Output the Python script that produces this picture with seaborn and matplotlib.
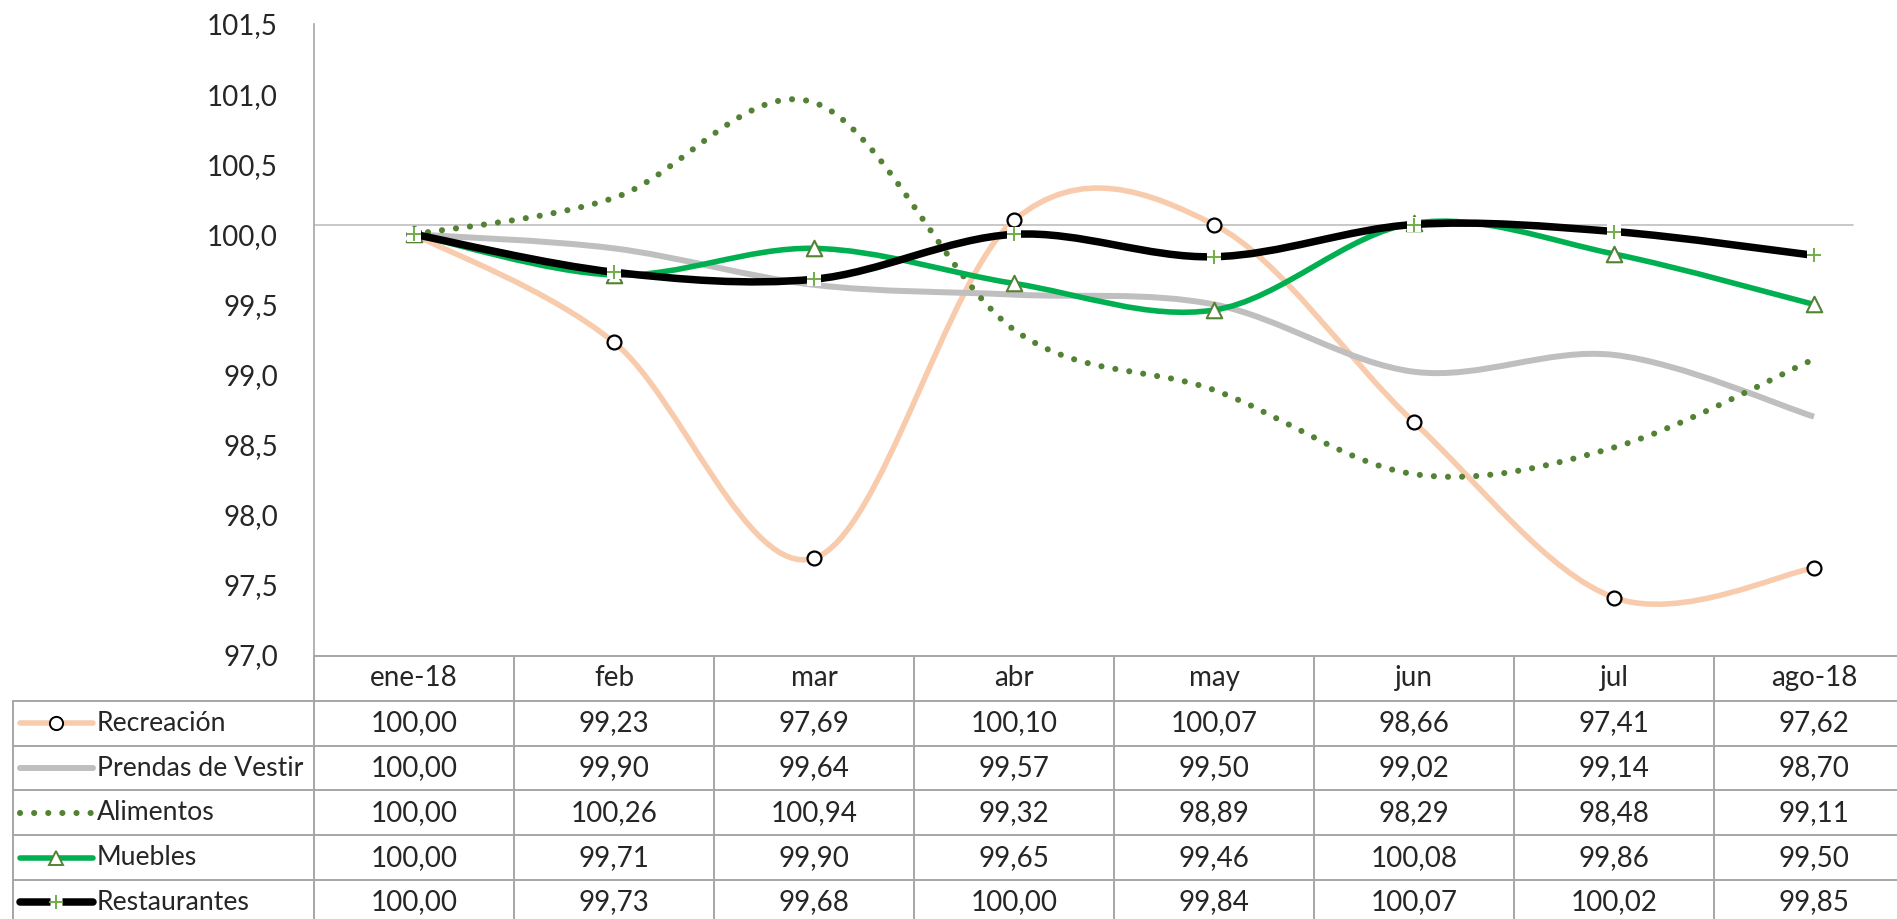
import matplotlib
matplotlib.use("Agg")
import matplotlib.pyplot as plt
import seaborn as sns
import pandas as pd
from matplotlib.path import Path
from matplotlib.patches import PathPatch

# datos del gráfico (índices, base ene-18 = 100)
meses = ["ene-18", "feb", "mar", "abr", "may", "jun", "jul", "ago-18"]
recreacion = [100.00, 99.23, 97.69, 100.10, 100.07, 98.66, 97.41, 97.62]
prendas = [100.00, 99.90, 99.64, 99.57, 99.50, 99.02, 99.14, 98.70]
alimentos = [100.00, 100.26, 100.94, 99.32, 98.89, 98.29, 98.48, 99.11]
muebles = [100.00, 99.71, 99.90, 99.65, 99.46, 100.08, 99.86, 99.50]
restaurantes = [100.00, 99.73, 99.68, 100.00, 99.84, 100.07, 100.02, 99.85]
nombres = ["Recreación", "Prendas de Vestir", "Alimentos", "Muebles", "Restaurantes"]
y_ticks = [97.0, 97.5, 98.0, 98.5, 99.0, 99.5, 100.0, 100.5, 101.0, 101.5]

sns.set_style("white")
plt.rcParams["font.family"] = ["Lato", "DejaVu Sans"]
FS = 20

W, H = 1897, 919
fig = plt.figure(figsize=(W / 100, H / 100), dpi=100)

# área del gráfico en píxeles
x0, x1 = 314, W
ytop, ybot = 24, 655
colw = 200
ax = fig.add_axes([x0 / W, (H - ybot) / H, (x1 - x0) / W, (ybot - ytop) / H])
ax.set_xlim(-0.5, -0.5 + (x1 - x0) / colw)
ax.set_ylim(97.0, 101.5)

series = [recreacion, prendas, alimentos, muebles, restaurantes]
df = pd.DataFrame({n: s for n, s in zip(nombres, series)})
df["idx"] = range(len(meses))

estilos = {
    "Recreación": dict(color="#F8CBAD", lw=4.0, ls="-"),
    "Prendas de Vestir": dict(color="#BFBFBF", lw=4.3, ls="-"),
    "Alimentos": dict(color="#548235", lw=4.4, ls=(0, (0.01, 2.3))),
    "Muebles": dict(color="#00B050", lw=4.0, ls="-"),
    "Restaurantes": dict(color="#000000", lw=5.4, ls="-"),
}


def curva_suave(xs, ys):
    # curva bezier tipo Excel (Catmull-Rom, tensión 1/6)
    n = len(xs)
    verts = [(xs[0], ys[0])]
    codes = [Path.MOVETO]
    for i in range(n - 1):
        a = max(i - 1, 0)
        b = min(i + 2, n - 1)
        c1 = (xs[i] + (xs[i + 1] - xs[a]) / 6, ys[i] + (ys[i + 1] - ys[a]) / 6)
        c2 = (xs[i + 1] - (xs[b] - xs[i]) / 6, ys[i + 1] - (ys[b] - ys[i]) / 6)
        verts += [c1, c2, (xs[i + 1], ys[i + 1])]
        codes += [Path.CURVE4] * 3
    return Path(verts, codes)


# línea del eje horizontal
ax.plot([-0.5, (1853 - x0) / colw - 0.5], [100.065, 100.065], color="#BFBFBF", lw=1.2, zorder=1)

z = 2
for n in nombres:
    st = estilos[n]
    p = PathPatch(curva_suave(list(df["idx"]), list(df[n])), facecolor="none",
                  edgecolor=st["color"], lw=st["lw"], linestyle=st["ls"],
                  capstyle="round" if n == "Alimentos" else "butt", joinstyle="round", zorder=z)
    ax.add_patch(p)
    if n == "Recreación":
        sns.scatterplot(data=df, x="idx", y=n, ax=ax, marker="o", s=100, color="white",
                        edgecolor="black", linewidth=1.6, zorder=z + 0.5)
    elif n == "Muebles":
        sns.scatterplot(data=df, x="idx", y=n, ax=ax, marker="^", s=125, color="white",
                        edgecolor="#548235", linewidth=1.5, zorder=z + 0.5)
    elif n == "Restaurantes":
        sns.scatterplot(data=df, x="idx", y=n, ax=ax, marker="s", s=110, color="white",
                        edgecolor="none", linewidth=0, zorder=z + 0.4)
        sns.scatterplot(data=df, x="idx", y=n, ax=ax, marker="+", s=115, color="#70AD47",
                        linewidth=1.4, zorder=z + 0.5)
    z += 1

ax.set_xlabel("")
ax.set_ylabel("")
ax.set_xticks([])
ax.set_yticks(y_ticks)
ax.set_yticklabels([f"{v:.1f}".replace(".", ",") for v in y_ticks], fontsize=FS)
ax.tick_params(axis="y", length=0, pad=26)
for s in ["top", "right", "bottom"]:
    ax.spines[s].set_visible(False)
ax.spines["left"].set_color("#A6A6A6")
ax.spines["left"].set_linewidth(1.2)

# tabla de datos en coordenadas de píxel
tb = fig.add_axes([0, 0, 1, 1])
tb.set_xlim(0, W)
tb.set_ylim(H, 0)
tb.axis("off")
tb.patch.set_alpha(0)

gris = "#A6A6A6"
y_head = 656
rh = 44.8
y_rows = [y_head + rh * (k + 1) for k in range(len(nombres) + 1)]
cols = [ax.transData.transform((i - 0.5, 100))[0] for i in range(len(meses) + 1)]
centers = [ax.transData.transform((i, 100))[0] for i in range(len(meses))]

tb.plot([x0, W], [y_head, y_head], color=gris, lw=1.4)
for yy in y_rows[:-1]:
    tb.plot([13, W], [yy, yy], color=gris, lw=1.4)
tb.plot([13, 13], [y_rows[0], H], color=gris, lw=1.4)
for cx in cols:
    tb.plot([cx, cx], [y_head, H], color=gris, lw=1.4)

for i, m in enumerate(meses):
    tb.text(centers[i], y_head + rh / 2, m, ha="center", va="center", fontsize=FS)

for k, n in enumerate(nombres):
    yc = y_rows[k] + rh / 2
    st = estilos[n]
    tb.plot([20, 93], [yc, yc], color=st["color"], lw=st["lw"], linestyle=st["ls"],
            solid_capstyle="round", dash_capstyle="round")
    if n == "Recreación":
        tb.plot([56], [yc], marker="o", ms=9.5, mfc="white", mec="black", mew=1.4)
    elif n == "Muebles":
        tb.plot([56], [yc], marker="^", ms=10, mfc="white", mec="#548235", mew=1.4)
    elif n == "Restaurantes":
        tb.plot([56], [yc], marker="s", ms=9, mfc="white", mec="none")
        tb.plot([56], [yc], marker="+", ms=10, mec="#70AD47", mew=1.4)
    tb.text(97, yc, n, ha="left", va="center", fontsize=19.2)
    for i, v in enumerate(df[n]):
        tb.text(centers[i], yc, f"{v:.2f}".replace(".", ","), ha="center", va="center", fontsize=FS)

fig.savefig("out.png", dpi=100)
